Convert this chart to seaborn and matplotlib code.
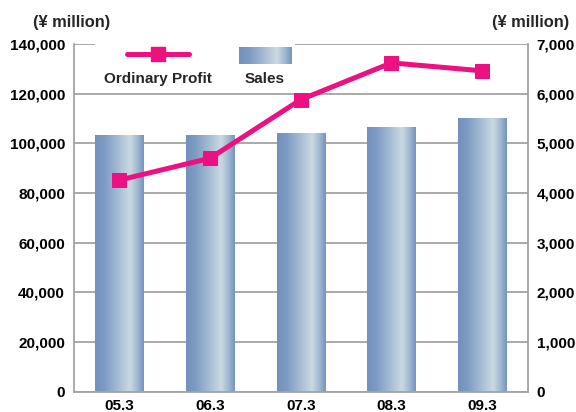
import numpy as np
import matplotlib
matplotlib.use('Agg')
import matplotlib.pyplot as plt
import seaborn as sns
from matplotlib.colors import LinearSegmentedColormap
from matplotlib.lines import Line2D
from matplotlib.patches import Patch, Rectangle
from matplotlib.legend_handler import HandlerBase
from matplotlib.image import BboxImage
from matplotlib.transforms import Bbox, TransformedBbox
from matplotlib.ticker import StrMethodFormatter

# data
years = ['05.3', '06.3', '07.3', '08.3', '09.3']
sales = [103400, 103400, 104200, 106600, 110200]          # left axis, bars
ordinary_profit = [4260, 4700, 5880, 6620, 6460]          # right axis, line

sales_ticks = list(range(0, 140001, 20000))
profit_ticks = list(range(0, 7001, 1000))

sns.set_theme(style='white')
plt.rcParams.update({'font.family': 'Liberation Sans', 'font.weight': 'bold',
                     'axes.labelweight': 'bold'})

pink = '#EC1080'
grid_c = '#a3a3a3'
bar_cmap = LinearSegmentedColormap.from_list('bar', [(0, '#7191BC'), (0.2, '#7E9BC3'),
                                                     (0.72, '#CADAE2'), (0.88, '#9DB5D0'),
                                                     (1, '#7493BE')])
grad = np.linspace(0, 1, 256).reshape(1, -1)


class GradientHandler(HandlerBase):
    # legend swatch with the same gradient as the bars
    def create_artists(self, legend, orig_handle, xdescent, ydescent, width, height, fontsize, trans):
        bb = Bbox.from_bounds(-xdescent, -ydescent, width * 0.84, height)
        img = BboxImage(TransformedBbox(bb, trans), cmap=bar_cmap, interpolation='bicubic')
        img.set_data(grad)
        return [img]


fig = plt.figure(figsize=(5.76, 4.12), dpi=100)
ax = fig.add_axes([74/576, 1-391.7/412, 453.5/576, 347.7/412])

sns.barplot(x=years, y=sales, color='#7E9BC3', saturation=1, width=0.53, ax=ax)
for p in ax.patches:
    x0, y0, w, h = p.get_x(), p.get_y(), p.get_width(), p.get_height()
    im = ax.imshow(grad, extent=[x0, x0+w, y0, y0+h], aspect='auto', cmap=bar_cmap,
                   interpolation='bicubic', zorder=1.5)
    im.set_clip_path(p)
    p.set_edgecolor('none')

ax.set_xlim(-0.5, 4.5)
ax.set_ylim(0, 140000)
ax.set_yticks(sales_ticks)
ax.yaxis.set_major_formatter(StrMethodFormatter('{x:,.0f}'))
ax.yaxis.grid(True, color=grid_c, lw=1.3)
ax.xaxis.grid(False)
ax.set_axisbelow(True)
ax.set_xlabel('')
ax.set_ylabel('')
ax.spines['top'].set_visible(False)
for s in ['left', 'right', 'bottom']:
    ax.spines[s].set_color(grid_c)
    ax.spines[s].set_linewidth(1.3)
ax.tick_params(axis='both', length=0, labelsize=11, colors='black')
ax.tick_params(axis='y', pad=6.5)
ax.tick_params(axis='x', pad=5)

ax2 = ax.twinx()
sns.lineplot(x=years, y=ordinary_profit, ax=ax2, color=pink, lw=3.6, marker='s',
             markersize=10, markeredgecolor=pink, zorder=3)
ax2.set_ylim(0, 7000)
ax2.set_xlim(-0.5, 4.5)
ax2.set_yticks(profit_ticks)
ax2.yaxis.set_major_formatter(StrMethodFormatter('{x:,.0f}'))
ax2.set_ylabel('')
ax2.set_xlabel('')
for s in ax2.spines.values():
    s.set_visible(False)
ax2.tick_params(axis='y', length=0, labelsize=11, colors='black', pad=6.5)

# white box behind the legend breaks the top gridline
ax2.add_patch(Rectangle((0.046, 0.9), 0.441, 0.11, transform=ax2.transAxes,
                        facecolor='white', edgecolor='none', zorder=1, clip_on=False))

profit_handle = Line2D([], [], color=pink, lw=3.6, marker='s', markersize=10)
sales_handle = Patch()
ax2.legend([profit_handle, sales_handle], ['', ''], ncol=2, loc='upper left',
           bbox_to_anchor=(0.117, 0.991), frameon=False, borderpad=0, borderaxespad=0,
           handlelength=4.06, handleheight=1.3, handletextpad=0, columnspacing=3.27,
           fontsize=11, handler_map={sales_handle: GradientHandler()})
ax2.text(0.185, 0.898, 'Ordinary Profit', transform=ax2.transAxes, ha='center', va='center',
         fontsize=11, fontweight='bold')
ax2.text(0.4196, 0.898, 'Sales', transform=ax2.transAxes, ha='center', va='center',
         fontsize=11, fontweight='bold')

fig.text(72/576, 1-23/412, '(¥ million)', ha='center', va='center', fontsize=11.8, fontweight='bold')
fig.text(530.5/576, 1-23/412, '(¥ million)', ha='center', va='center', fontsize=11.8, fontweight='bold')

fig.savefig('out.png', dpi=100)
